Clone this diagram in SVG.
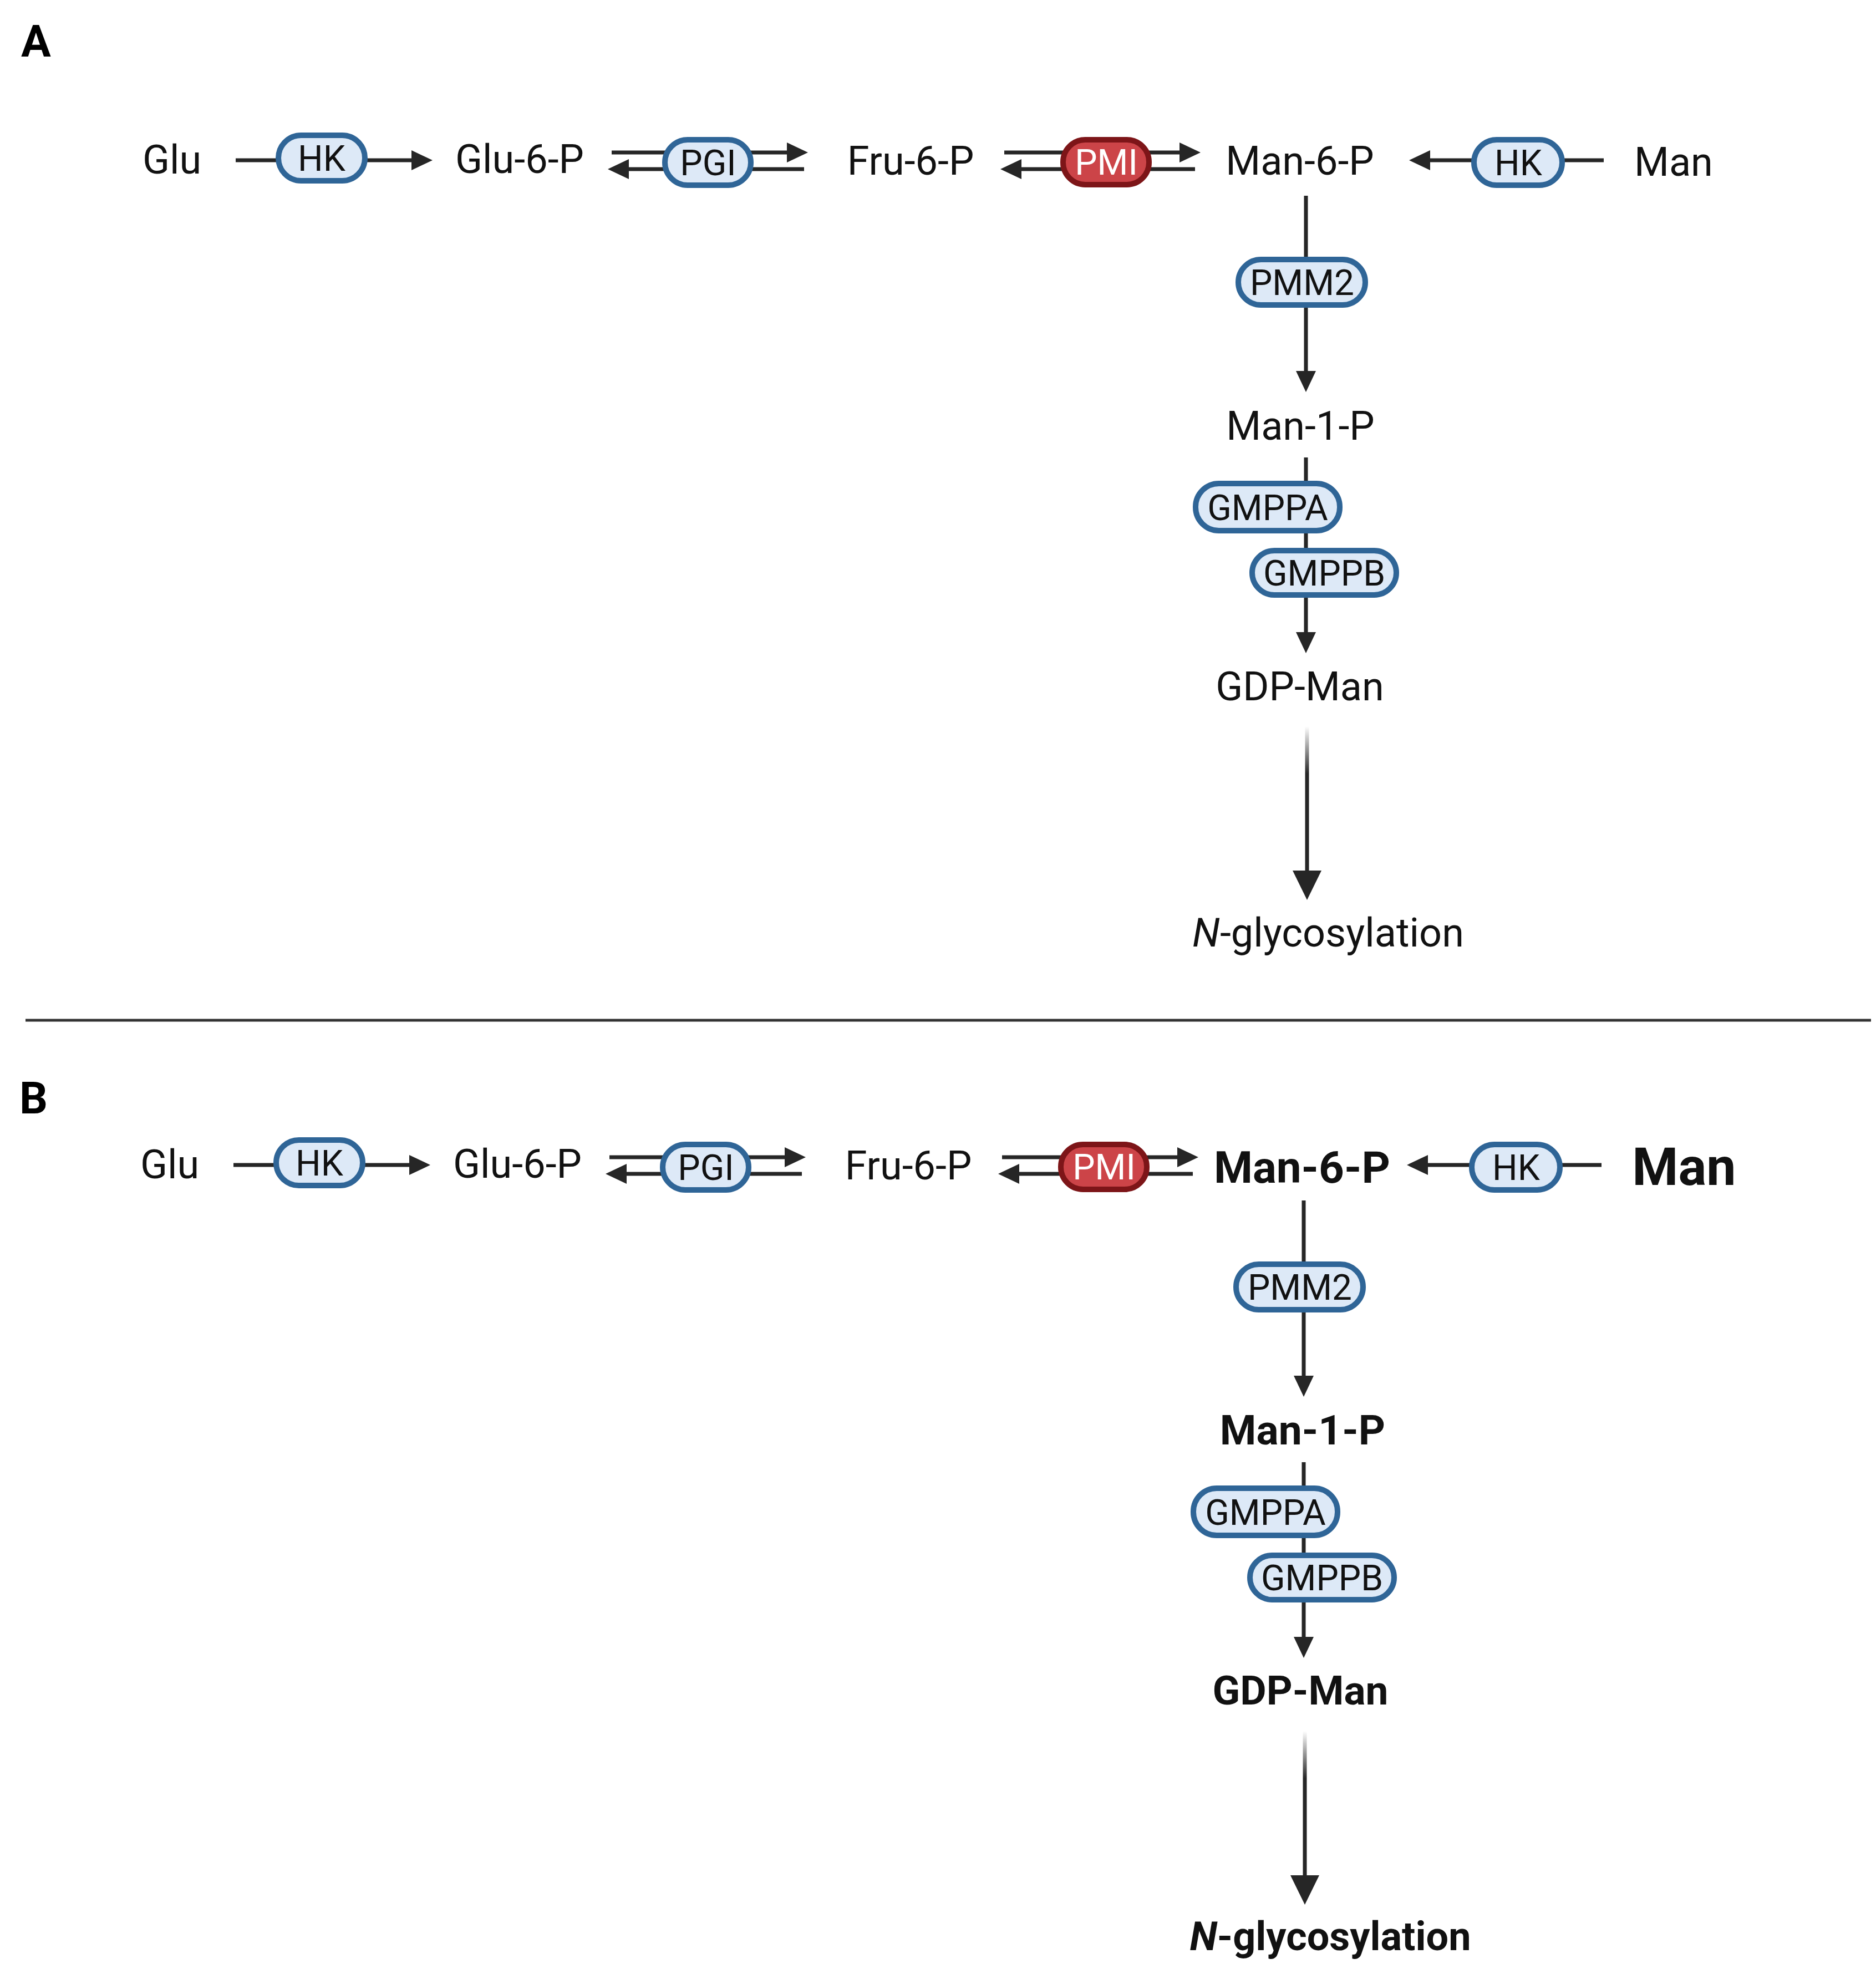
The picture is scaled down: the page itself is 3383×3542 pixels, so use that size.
<svg xmlns="http://www.w3.org/2000/svg" width="3383" height="3542" viewBox="0 0 3383 3542">
<style>
.t{font-family:Roboto,"Liberation Sans",Arial,sans-serif;font-size:72px;fill:#111;text-anchor:middle}
.tb{font-family:Roboto,"Liberation Sans",Arial,sans-serif;font-weight:bold;fill:#111;text-anchor:middle}
.lab{font-family:Roboto,"Liberation Sans",Arial,sans-serif;font-weight:bold;font-size:80px;fill:#000}
.ln{stroke:#262626;stroke-width:7;fill:none}
.ar{stroke:#262626;stroke-width:7;fill:none;marker-end:url(#ah)}
.big{stroke:url(#fade);stroke-width:7;fill:none;marker-end:url(#ahb)}
.pb{fill:#dde9f7;stroke:#2f6597;stroke-width:10}
.pr{fill:#cc4448;stroke:#7d1518;stroke-width:10}
.pt{font-family:Roboto,"Liberation Sans",Arial,sans-serif;font-size:64px;fill:#111;text-anchor:middle}
.ptw{font-family:Roboto,"Liberation Sans",Arial,sans-serif;font-size:64px;fill:#fff;text-anchor:middle}
</style>
<defs>
<marker id="ah" viewBox="0 0 38 36" refX="8" refY="18" markerWidth="38" markerHeight="36" markerUnits="userSpaceOnUse" orient="auto">
<path d="M0,0 L38,18 L0,36 Z" fill="#262626"/>
</marker>
<marker id="ahb" viewBox="0 0 53 52" refX="13" refY="26" markerWidth="53" markerHeight="52" markerUnits="userSpaceOnUse" orient="auto">
<path d="M0,0 L53,26 L0,52 Z" fill="#262626"/>
</marker>
<linearGradient id="fade" gradientUnits="userSpaceOnUse" x1="0" y1="1310" x2="0" y2="1395">
<stop offset="0" stop-color="#262626" stop-opacity="0"/>
<stop offset="1" stop-color="#262626" stop-opacity="1"/>
</linearGradient>
</defs>
<rect width="3383" height="3542" fill="#fff"/>

<text class="lab" x="38" y="102">A</text>
<text class="lab" x="35" y="2008">B</text>
<line id="separator" x1="46" y1="1840" x2="3374" y2="1840" stroke="#333" stroke-width="5"/>

<!-- Panel A connectors -->
<g id="connectors-A">
<line class="ar" x1="425" y1="289" x2="750" y2="289"/>
<line class="ar" x1="1103" y1="275" x2="1427" y2="275"/>
<line class="ar" x1="1450" y1="305" x2="1126" y2="305"/>
<line class="ar" x1="1811" y1="275" x2="2135" y2="275"/>
<line class="ar" x1="2155" y1="305" x2="1834" y2="305"/>
<line class="ar" x1="2892" y1="289" x2="2571" y2="289"/>
<line class="ar" x1="2355" y1="353" x2="2355" y2="677"/>
<line class="ar" x1="2355" y1="825" x2="2355" y2="1148"/>
<line class="big" x1="2357" y1="1310" x2="2357" y2="1583"/>
</g>

<!-- Panel B connectors -->
<g id="connectors-B" transform="translate(-4,1812)">
<line class="ar" x1="425" y1="289" x2="750" y2="289"/>
<line class="ar" x1="1103" y1="275" x2="1427" y2="275"/>
<line class="ar" x1="1450" y1="305" x2="1126" y2="305"/>
<line class="ar" x1="1811" y1="275" x2="2135" y2="275"/>
<line class="ar" x1="2155" y1="305" x2="1834" y2="305"/>
<line class="ar" x1="2892" y1="289" x2="2571" y2="289"/>
<line class="ar" x1="2355" y1="353" x2="2355" y2="677"/>
<line class="ar" x1="2355" y1="825" x2="2355" y2="1148"/>
<line class="big" x1="2357" y1="1310" x2="2357" y2="1583"/>
</g>

<!-- Panel A nodes -->
<g id="A-Glu"><text class="t" x="310" y="313">Glu</text></g>
<g id="A-HK1"><rect class="pb" x="502" y="244" width="156" height="82" rx="41"/><text class="pt" x="580" y="308">HK</text></g>
<g id="A-Glu6P"><text class="t" x="937" y="312">Glu-6-P</text></g>
<g id="A-PGI"><rect class="pb" x="1199" y="252" width="155" height="82" rx="41"/><text class="pt" x="1277" y="316">PGI</text></g>
<g id="A-Fru6P"><text class="t" x="1642" y="315">Fru-6-P</text></g>
<g id="A-PMI"><rect class="pr" x="1917" y="252" width="155" height="81" rx="40"/><text class="ptw" x="1995" y="315">PMI</text></g>
<g id="A-Man6P"><text class="t" x="2344" y="315">Man-6-P</text></g>
<g id="A-HK2"><rect class="pb" x="2658" y="252" width="159" height="82" rx="41"/><text class="pt" x="2738" y="316">HK</text></g>
<g id="A-Man"><text class="t" x="3018" y="317">Man</text></g>
<g id="A-PMM2"><rect class="pb" x="2233" y="468" width="229" height="82" rx="41"/><text class="pt" x="2348" y="532">PMM2</text></g>
<g id="A-Man1P"><text class="t" x="2345" y="793">Man-1-P</text></g>
<g id="A-GMPPA"><rect class="pb" x="2156" y="872" width="260" height="85" rx="42"/><text class="pt" x="2286" y="938">GMPPA</text></g>
<g id="A-GMPPB"><rect class="pb" x="2258" y="993" width="260" height="80" rx="40"/><text class="pt" x="2388" y="1056">GMPPB</text></g>
<g id="A-GDPMan"><text class="t" x="2344" y="1263">GDP-Man</text></g>
<g id="A-Nglyc"><text class="t" x="2395" y="1707"><tspan font-style="italic">N</tspan>-glycosylation</text></g>

<!-- Panel B nodes -->
<g id="B-Glu"><text class="t" x="306" y="2125">Glu</text></g>
<g id="B-HK1"><rect class="pb" x="498" y="2056" width="156" height="82" rx="41"/><text class="pt" x="576" y="2120">HK</text></g>
<g id="B-Glu6P"><text class="t" x="933" y="2124">Glu-6-P</text></g>
<g id="B-PGI"><rect class="pb" x="1195" y="2064" width="155" height="82" rx="41"/><text class="pt" x="1273" y="2128">PGI</text></g>
<g id="B-Fru6P"><text class="t" x="1638" y="2127">Fru-6-P</text></g>
<g id="B-PMI"><rect class="pr" x="1913" y="2064" width="155" height="81" rx="40"/><text class="ptw" x="1991" y="2127">PMI</text></g>
<g id="B-Man6P"><text class="tb" x="2348" y="2133" font-size="80">Man-6-P</text></g>
<g id="B-HK2"><rect class="pb" x="2654" y="2064" width="159" height="82" rx="41"/><text class="pt" x="2734" y="2128">HK</text></g>
<g id="B-Man"><text class="tb" x="3037" y="2137" font-size="95">Man</text></g>
<g id="B-PMM2"><rect class="pb" x="2229" y="2280" width="229" height="82" rx="41"/><text class="pt" x="2344" y="2344">PMM2</text></g>
<g id="B-Man1P"><text class="tb" x="2349" y="2605" font-size="75">Man-1-P</text></g>
<g id="B-GMPPA"><rect class="pb" x="2152" y="2684" width="260" height="85" rx="42"/><text class="pt" x="2282" y="2750">GMPPA</text></g>
<g id="B-GMPPB"><rect class="pb" x="2254" y="2805" width="260" height="80" rx="40"/><text class="pt" x="2384" y="2868">GMPPB</text></g>
<g id="B-GDPMan"><text class="tb" x="2345" y="3074" font-size="73">GDP-Man</text></g>
<g id="B-Nglyc"><text class="tb" x="2399" y="3517" font-size="72"><tspan font-style="italic">N</tspan>-glycosylation</text></g>
</svg>
